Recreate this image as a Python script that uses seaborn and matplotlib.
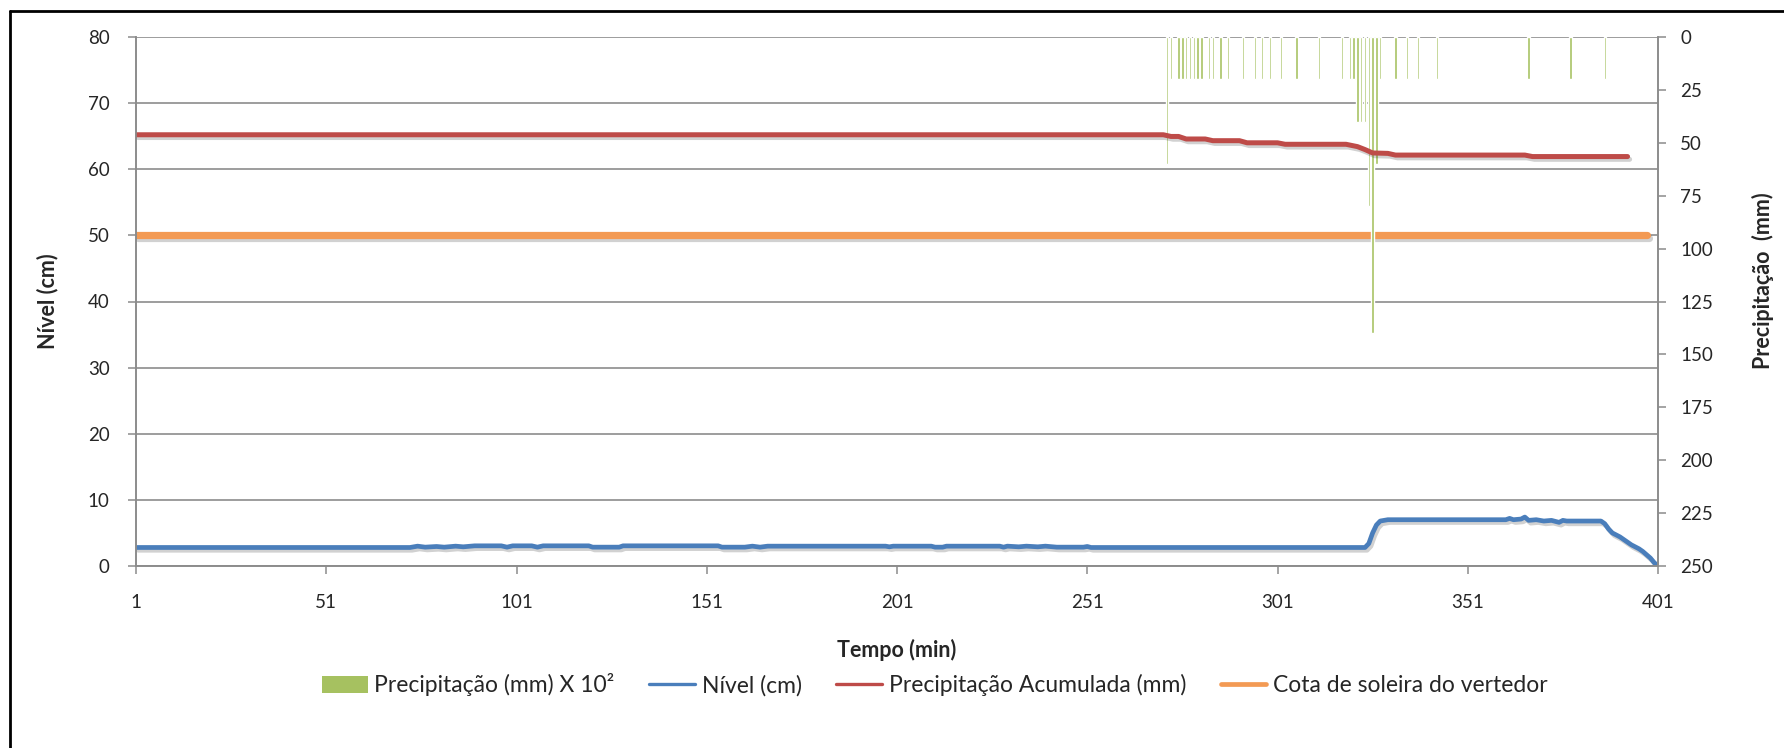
import numpy as np
import pandas as pd
import seaborn as sns
import matplotlib.pyplot as plt
from matplotlib.patches import Patch
from matplotlib.lines import Line2D
import matplotlib.patheffects as pe

# precipitacao (mm x 10^2), barras penduradas no eixo direito invertido
tempo_chuva = [272, 273, 275, 276, 277, 278, 279, 280, 281, 283, 284, 286, 288,
               292, 295, 297, 299, 302, 306, 312, 318, 320, 321, 322, 323, 324,
               325, 326, 327, 328, 332, 335, 338, 343, 367, 378, 387]
chuva = [60, 20, 20, 20, 20, 20, 20, 20, 20, 20, 20, 20, 20,
         20, 20, 20, 20, 20, 20, 20, 20, 20, 20, 40, 40, 40,
         80, 140, 60, 20, 20, 20, 20, 20, 20, 20, 20]

# nivel (cm)
tempo_nivel = [1, 73, 75, 77, 80, 82, 85, 87, 90, 97, 98.5, 100, 105, 106.5, 108,
               120, 121, 128, 129, 154, 155, 161, 163, 165, 167, 198, 199, 200,
               210, 211, 213, 214, 228, 229, 230, 233, 235, 238, 240, 243, 250,
               251, 252, 324, 325, 326, 327, 328, 330, 361, 362, 363, 365, 366,
               367, 369, 371, 373, 375, 376, 377, 386, 387, 388, 389, 391, 392,
               394, 396, 397, 399, 400, 401]
nivel = [2.8, 2.8, 3.0, 2.85, 2.95, 2.85, 3.0, 2.9, 3.05, 3.05, 2.85, 3.05, 3.05, 2.85, 3.05,
         3.05, 2.85, 2.85, 3.05, 3.05, 2.85, 2.85, 3.0, 2.85, 3.0, 3.0, 2.9, 3.0,
         3.0, 2.85, 2.85, 3.0, 3.0, 2.85, 3.0, 2.9, 3.0, 2.9, 3.0, 2.85, 2.85,
         2.95, 2.8, 2.8, 3.4, 5.0, 6.2, 6.8, 7.0, 7.0, 7.2, 7.0, 7.1, 7.4,
         6.9, 7.0, 6.8, 6.9, 6.6, 6.9, 6.8, 6.8, 6.4, 5.6, 5.0, 4.4, 4.0,
         3.2, 2.6, 2.2, 1.2, 0.5, 0.0]

# precipitacao acumulada (mm), eixo direito
tempo_acum = [1, 271, 273, 275, 277, 282, 284, 291, 293, 301, 303, 319, 322, 324,
              326, 330, 332, 366, 368, 393]
acum = [46.2, 46.2, 47.0, 47.0, 48.2, 48.2, 49.0, 49.0, 50.0, 50.0, 50.7, 50.7,
        51.8, 53.2, 54.8, 55.0, 55.8, 55.8, 56.5, 56.5]

# cota de soleira do vertedor (cm)
tempo_cota = [1, 398]
cota = [50, 50]

x_ticks = [1, 51, 101, 151, 201, 251, 301, 351, 401]

c_chuva = '#A6C160'
c_nivel = '#4A7EBB'
c_acum = '#BE4B48'
c_cota = '#F39A54'
c_grid = '#8C8C8C'

sns.set_style('white')
plt.rcParams['font.family'] = ['Lato', 'DejaVu Sans']
plt.rcParams['font.size'] = 13.5

fig = plt.figure(figsize=(17.84, 7.48), dpi=100)
ax = fig.add_axes([136 / 1784, 1 - 566 / 748, 1522 / 1784, 529 / 748])
ax2 = ax.twinx()

shadow = [pe.SimpleLineShadow(offset=(1.5, -2), alpha=0.18), pe.Normal()]

sns.lineplot(x=tempo_cota, y=cota, ax=ax, color=c_cota, linewidth=5.2,
             label='Cota de soleira do vertedor', legend=False, path_effects=shadow)
sns.lineplot(x=tempo_nivel, y=nivel, ax=ax, color=c_nivel, linewidth=3.4,
             label='Nível (cm)', legend=False, path_effects=shadow, sort=False)

ax2.bar(tempo_chuva, chuva, width=0.6, color=c_chuva, bottom=0)
sns.lineplot(x=tempo_acum, y=acum, ax=ax2, color=c_acum, linewidth=3.6,
             label='Precipitação Acumulada (mm)', legend=False, path_effects=shadow, sort=False)

ax.set_xlim(1, 401)
ax.set_ylim(0, 80)
ax.set_yticks(range(0, 81, 10))
ax.set_xticks(x_ticks)
ax.set_xticklabels([str(t) for t in x_ticks])
ax2.set_ylim(250, 0)
ax2.set_yticks(range(0, 251, 25))

ax.grid(axis='y', color=c_grid, linewidth=1.2)
ax.grid(axis='x', visible=False)
ax2.grid(False)
ax.set_axisbelow(True)

for a in (ax, ax2):
    for s in a.spines.values():
        s.set_color(c_grid)
        s.set_linewidth(1.2)
    a.spines['top'].set_visible(False)
ax.tick_params(axis='x', direction='out', length=6, width=1.1, color=c_grid, pad=14, bottom=True)
ax.tick_params(axis='y', direction='out', length=6, width=1.1, color=c_grid, pad=13, left=True)
ax2.tick_params(axis='y', direction='out', length=6, width=1.1, color=c_grid, pad=10, right=True)

ax.set_xlabel('Tempo (min)', fontweight='bold', fontsize=15.5)
ax.set_ylabel('Nível (cm)', fontweight='bold', fontsize=15.5)
ax2.set_ylabel('Precipitação  (mm)', fontweight='bold', fontsize=15.5)
ax.xaxis.set_label_coords(0.5, -0.138)
ax.yaxis.set_label_coords(-0.051, 0.5)
ax2.yaxis.set_label_coords(1.062, 0.54)

handles = [Patch(facecolor=c_chuva, edgecolor='none'),
           Line2D([], [], color=c_nivel, linewidth=2.4),
           Line2D([], [], color=c_acum, linewidth=2.4),
           Line2D([], [], color=c_cota, linewidth=3.4)]
labels = ['Precipitação (mm) X 10²', 'Nível (cm)',
          'Precipitação Acumulada (mm)', 'Cota de soleira do vertedor']
fig.legend(handles, labels, loc='center', bbox_to_anchor=(0.524, 1 - 685 / 748),
           ncol=4, frameon=False, fontsize=16.5, handlelength=2.0,
           handletextpad=0.3, columnspacing=1.5)

# moldura do grafico (apenas topo e esquerda visiveis)
fig.add_artist(Line2D([10 / 1784, 10 / 1784], [0, 1 - 11 / 748], color='black',
                      linewidth=2, transform=fig.transFigure))
fig.add_artist(Line2D([10 / 1784, 1], [1 - 11 / 748, 1 - 11 / 748], color='black',
                      linewidth=2, transform=fig.transFigure))

fig.savefig('out.png', dpi=100)
